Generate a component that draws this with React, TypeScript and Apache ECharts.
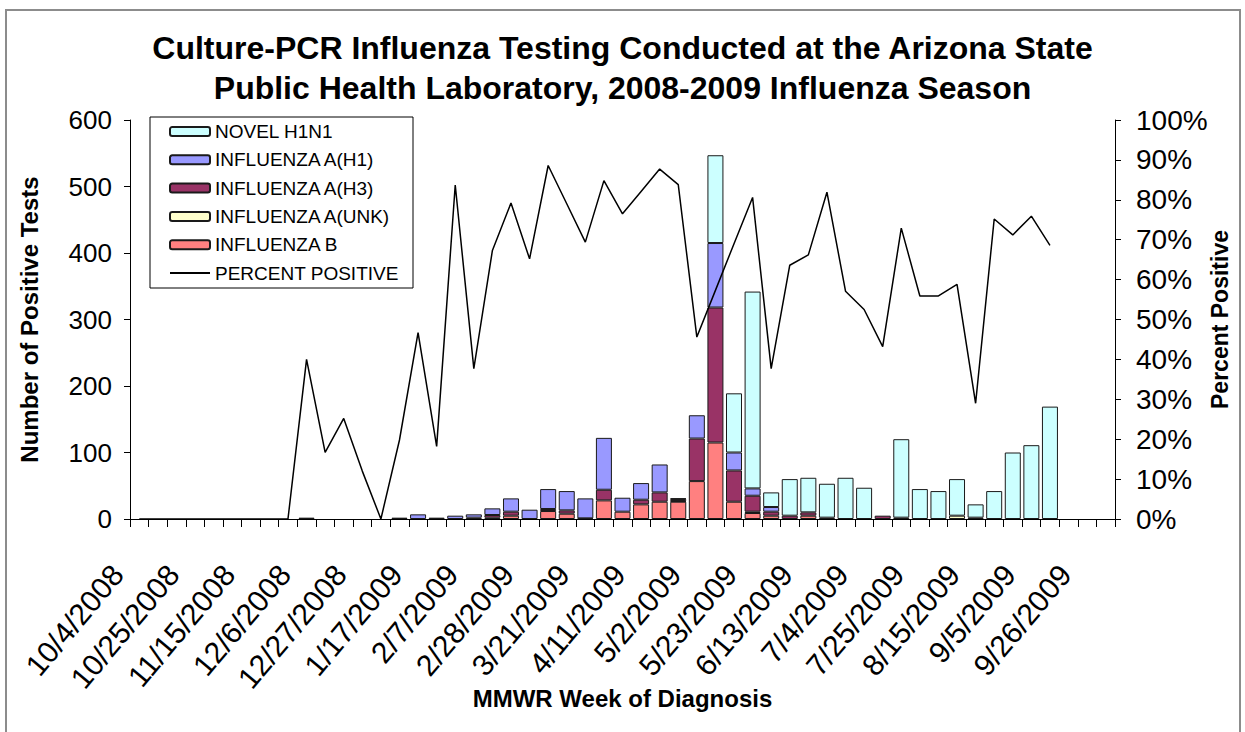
import React, { useEffect, useRef } from "react";
import * as echarts from "echarts";

const categories = [
  "10/4/2008", "10/11/2008", "10/18/2008", "10/25/2008", "11/1/2008", "11/8/2008", "11/15/2008", "11/22/2008", "11/29/2008", "12/6/2008",
  "12/13/2008", "12/20/2008", "12/27/2008", "1/3/2009", "1/10/2009", "1/17/2009", "1/24/2009", "1/31/2009", "2/7/2009", "2/14/2009",
  "2/21/2009", "2/28/2009", "3/7/2009", "3/14/2009", "3/21/2009", "3/28/2009", "4/4/2009", "4/11/2009", "4/18/2009", "4/25/2009",
  "5/2/2009", "5/9/2009", "5/16/2009", "5/23/2009", "5/30/2009", "6/6/2009", "6/13/2009", "6/20/2009", "6/27/2009", "7/4/2009",
  "7/11/2009", "7/18/2009", "7/25/2009", "8/1/2009", "8/8/2009", "8/15/2009", "8/22/2009", "8/29/2009", "9/5/2009", "9/12/2009",
  "9/19/2009", "9/26/2009", "10/3/2009",
];

const novelH1N1 = [
  null, null, null, null, null, null, null, null, null, null,
  null, null, null, null, null, null, null, null, null, null,
  null, null, null, null, null, null, null, null, null, null,
  null, 132, 89, 296, 22, 55, 52, 51, 62, 47,
  null, 118, 45, 42, 55, 20, 42, 100, 111, 169,
  null, null, null,
];

const influenzaAH1 = [
  null, null, null, null, null, null, null, null, null, null,
  null, null, null, null, null, 7, null, 5, 5, 10,
  20, 14, 30, 29, 30, 78, 21, 25, 42, 1,
  35, 97, 27, 11, 7, null, null, null, null, null,
  null, null, null, null, null, null, null, null, null, null,
  null, null, null,
];

const influenzaAH3 = [
  null, null, null, null, null, null, null, null, null, 2,
  null, null, null, null, 2, null, 2, null, 2, 4,
  6, null, 3, 5, 1, 16, null, 7, 14, 3,
  64, 203, 47, 24, 6, 5, 5, 2, null, null,
  5, 2, null, null, null, 2, null, null, null, null,
  null, null, null,
];

const influenzaAUnk = [
  null, null, null, null, null, null, null, null, null, null,
  null, null, null, null, null, null, null, null, null, null,
  null, null, null, null, null, null, null, null, null, 1,
  null, null, null, 2, null, null, null, null, null, null,
  null, null, null, null, 5, null, null, null, null, null,
  null, null, null,
];

const influenzaB = [
  null, null, null, null, null, null, null, null, null, null,
  null, null, null, null, null, null, null, null, null, 2,
  5, null, 12, 8, null, 28, 11, 22, 26, 26,
  57, 115, 26, 9, 5, null, 5, null, null, null,
  null, null, null, null, null, null, null, null, null, null,
  null, null, null,
];

const percentPositive = [
  0, 0, 0, 0, 0, 0, 0, 0, 0, 40,
  16.7, 25.2, 12, 0, 19.8, 46.7, 18.2, 83.7, 37.7, 67.3,
  79.2, 65.2, 88.6, 79, 69.4, 84.8, 76.5, 82.1, 87.7, 83.8,
  45.6, 57.3, 69, 80.6, 37.7, 63.6, 66.2, 81.9, 57.1, 52.5,
  43.2, 72.9, 55.9, 55.9, 58.8, 29, 75.2, 71.2, 75.9, 68.6,
  null, null, null,
];

const legendNames = [
  "NOVEL H1N1",
  "INFLUENZA A(H1)",
  "INFLUENZA A(H3)",
  "INFLUENZA A(UNK)",
  "INFLUENZA B",
  "PERCENT POSITIVE",
];

const FONT = "'Liberation Sans', Arial, sans-serif";

export default function App() {
  const ref = useRef<HTMLDivElement>(null);

  useEffect(() => {
    if (!ref.current) return;
    const chart = echarts.init(ref.current, undefined, { renderer: "svg" });

    const barSeries = (name: string, data: (number | null)[], color: string) => ({
      name,
      type: "bar",
      stack: "tests",
      data,
      barWidth: 16,
      itemStyle: { color, borderColor: "#1a1a1a", borderWidth: 1 },
      yAxisIndex: 0,
    });

    chart.setOption({
      animation: false,
      backgroundColor: "#ffffff",
      textStyle: { fontFamily: FONT },
      title: {
        text: "Culture-PCR Influenza Testing Conducted at the Arizona State\nPublic Health Laboratory, 2008-2009 Influenza Season",
        left: "center",
        top: 23,
        textStyle: {
          fontFamily: FONT,
          fontSize: 32,
          fontWeight: "bold",
          color: "#000",
          lineHeight: 40,
        },
      },
      legend: {
        orient: "vertical",
        left: 169,
        top: 122,
        itemWidth: 40,
        itemHeight: 9,
        itemGap: 9.3,
        padding: 0,
        textStyle: { fontFamily: FONT, fontSize: 19, color: "#000", lineHeight: 18 },
        data: legendNames.map((n) =>
          n === "PERCENT POSITIVE" ? { name: n, itemStyle: { opacity: 0 } } : { name: n }
        ),
      },
      grid: { left: 130, top: 120, width: 985, height: 399, outerBoundsMode: "none", containLabel: false },
      xAxis: {
        type: "category",
        data: categories,
        boundaryGap: true,
        name: "MMWR Week of Diagnosis",
        nameLocation: "middle",
        nameGap: 167,
        nameMoveOverlap: false,
        nameTextStyle: { fontFamily: FONT, fontSize: 24, fontWeight: "bold", color: "#000" },
        axisLine: { lineStyle: { color: "#000", width: 1 } },
        axisTick: { show: true, interval: 0, length: 8, lineStyle: { color: "#000" } },
        axisLabel: {
          interval: 2,
          rotate: 50,
          fontSize: 30,
          margin: 24,
          padding: [0, 34, 0, 0],
          color: "#000",
          fontFamily: FONT,
          hideOverlap: false,
        },
        splitLine: { show: false },
      },
      yAxis: [
        {
          type: "value",
          min: 0,
          max: 600,
          interval: 100,
          name: "Number of Positive Tests",
          nameLocation: "middle",
          nameRotate: 90,
          nameGap: 89,
          nameMoveOverlap: false,
          nameTextStyle: { fontFamily: FONT, fontSize: 24, fontWeight: "bold", color: "#000" },
          axisLine: { show: true, lineStyle: { color: "#000", width: 1 } },
          axisTick: { show: true, length: 6, lineStyle: { color: "#000" } },
          axisLabel: { fontSize: 26, color: "#000", margin: 18, fontFamily: FONT },
          splitLine: { show: false },
        },
        {
          type: "value",
          min: 0,
          max: 100,
          interval: 10,
          position: "right",
          name: "Percent Positive",
          nameLocation: "middle",
          nameRotate: 90,
          nameGap: 93,
          nameMoveOverlap: false,
          nameTextStyle: { fontFamily: FONT, fontSize: 23, fontWeight: "bold", color: "#000" },
          axisLine: { show: true, lineStyle: { color: "#000", width: 1 } },
          axisTick: { show: true, length: 6, lineStyle: { color: "#000" } },
          axisLabel: { fontSize: 28, color: "#000", margin: 21, fontFamily: FONT, formatter: "{value}%" },
          splitLine: { show: false },
        },
      ],
      graphic: [
        {
          type: "rect",
          silent: true,
          shape: { x: 6, y: 10, width: 1234, height: 740 },
          style: { fill: "none", stroke: "#8c8c8c", lineWidth: 2 },
          z: 100,
        },
        {
          type: "rect",
          silent: true,
          shape: { x: 150, y: 117, width: 263, height: 171 },
          style: { fill: "#fff", stroke: "#000", lineWidth: 1 },
          z: -1,
        },
      ],
      series: [
        barSeries("INFLUENZA B", influenzaB, "#FF8080"),
        barSeries("INFLUENZA A(UNK)", influenzaAUnk, "#FFFFCC"),
        barSeries("INFLUENZA A(H3)", influenzaAH3, "#993366"),
        barSeries("INFLUENZA A(H1)", influenzaAH1, "#9999FF"),
        barSeries("NOVEL H1N1", novelH1N1, "#CCFFFF"),
        {
          name: "PERCENT POSITIVE",
          type: "line",
          yAxisIndex: 1,
          data: percentPositive,
          symbol: "none",
          showSymbol: false,
          lineStyle: { color: "#000", width: 1.5 },
          itemStyle: { color: "#000" },
          z: 10,
        },
      ],
    });

    return () => chart.dispose();
  }, []);

  return (
    <div
      ref={ref}
      style={{ position: "absolute", left: 0, top: 0, width: 1245, height: 732 }}
    />
  );
}
